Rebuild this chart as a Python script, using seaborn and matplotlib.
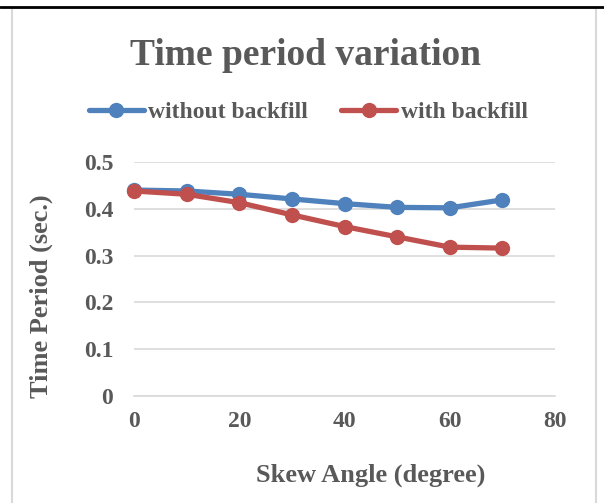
import matplotlib
matplotlib.use("Agg")
import matplotlib.pyplot as plt
import seaborn as sns
import pandas as pd
from matplotlib.lines import Line2D
from matplotlib.patches import Rectangle

skew_angle = [0, 10, 20, 30, 40, 50, 60, 70]
without_backfill = [0.440, 0.438, 0.431, 0.421, 0.411, 0.403, 0.402, 0.419]
with_backfill = [0.438, 0.431, 0.413, 0.387, 0.362, 0.340, 0.318, 0.316]
series_names = ["without backfill", "with backfill"]
x_ticks = [0, 20, 40, 60, 80]
y_ticks = [0, 0.1, 0.2, 0.3, 0.4, 0.5]
y_tick_labels = ["0", "0.1", "0.2", "0.3", "0.4", "0.5"]

df = pd.DataFrame({
    "angle": skew_angle * 2,
    "period": without_backfill + with_backfill,
    "series": [series_names[0]] * len(skew_angle) + [series_names[1]] * len(skew_angle),
})

sns.set_style("white")
plt.rcParams["font.family"] = ["Liberation Serif", "DejaVu Serif"]
plt.rcParams["font.weight"] = "bold"

colors = {"without backfill": "#4F81BD", "with backfill": "#C0504D"}
grey = "#595959"

fig = plt.figure(figsize=(6.04, 5.03), dpi=100)
ax = fig.add_axes([0.222, 0.2127, 0.697, 0.4653])

sns.lineplot(data=df, x="angle", y="period", hue="series", palette=colors,
             marker="o", markersize=11, linewidth=3.8, markeredgewidth=0,
             legend=False, ax=ax, sort=False)

ax.set_xlim(0, 80)
ax.set_ylim(0, 0.5)
ax.set_xticks(x_ticks)
ax.set_yticks(y_ticks)
ax.set_yticklabels(y_tick_labels)
ax.grid(axis="y", color="#d9d9d9", linewidth=1.2)
ax.grid(axis="x", visible=False)
for s in ["top", "right", "left"]:
    ax.spines[s].set_visible(False)
ax.spines["bottom"].set_color("#d9d9d9")
ax.spines["bottom"].set_linewidth(1.2)
ax.tick_params(axis="y", length=0, labelsize=17, labelcolor=grey, pad=15)
ax.tick_params(axis="x", length=0, labelsize=17, labelcolor=grey, pad=11)
for lab in ax.get_xticklabels() + ax.get_yticklabels():
    lab.set_fontweight("bold")
ax.set_xlabel("")
ax.set_ylabel("")
for l in ax.lines:
    l.set_clip_on(False)

fig.text(0.614, 0.055, "Skew Angle (degree)", ha="center", va="center",
         fontsize=19, fontweight="bold", color=grey)
fig.text(0.068, 0.412, "Time Period (sec.)", ha="center", va="center",
         rotation=90, fontsize=19, fontweight="bold", color=grey)
fig.text(0.505, 0.89, "Time period variation", ha="center", va="center",
         fontsize=27, fontweight="bold", color=grey)

handles = [Line2D([0], [0], color=colors[n], marker="o", markersize=11,
                  linewidth=3.8, markeredgewidth=0) for n in series_names]
leg = fig.legend(handles, series_names, loc="center", bbox_to_anchor=(0.51, 0.777),
                 ncol=2, frameon=False, handlelength=2.33, columnspacing=1.44,
                 handletextpad=0.17, prop={"size": 17, "weight": "bold"})
for t in leg.get_texts():
    t.set_color(grey)

fig.patches.append(Rectangle((0.02, -0.01), 0.966, 0.995, transform=fig.transFigure,
                             fill=False, edgecolor="#d9d9d9", linewidth=1.5))
fig.lines.append(Line2D([0, 1], [0.987, 0.987], transform=fig.transFigure,
                        color="black", linewidth=2))

fig.savefig("out.png", dpi=100)
